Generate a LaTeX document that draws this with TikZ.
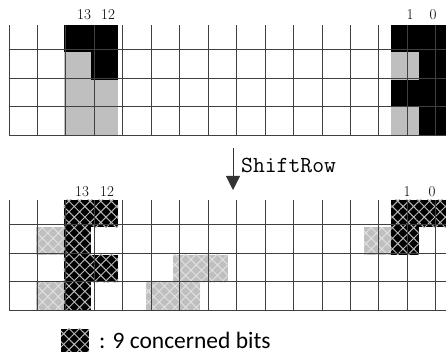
\documentclass[tikz,border=0pt]{standalone}
\usepackage{fontspec}
\newfontfamily\legendfont{Carlito}
\usetikzlibrary{arrows.meta,patterns.meta}

\tikzset{
  gridline/.style={draw=black!75, line width=0.9pt},
  bitblack/.style={fill=black},
  bitgray/.style={fill=black!25},
  hatchblack/.style={fill=black, postaction={pattern={Hatch[angle=45,distance=7.5pt,line width=1pt]}, pattern color=black!28}},
  hatchgray/.style={fill=black!25, postaction={pattern={Hatch[angle=45,distance=7.5pt,line width=1pt]}, pattern color=black!12}},
  bitlabel/.style={inner sep=0pt, font=\fontsize{15}{15}\selectfont},
}

\begin{document}
\begin{tikzpicture}[x=1pt, y=1pt]
  \useasboundingbox (0,0) rectangle (446,355);

  % state before ShiftRow
  \begin{scope}[shift={(9,220)}, x=27.3125pt, y=27.5pt]
    \foreach \c/\r in {2/0,3/0,3/1,14/0,14/2,15/0,15/1,15/2,15/3}
      \fill[bitblack] (\c,3-\r) rectangle ++(1,1);
    \foreach \c/\r in {2/1,2/2,3/2,2/3,3/3,14/1,14/3}
      \fill[bitgray] (\c,3-\r) rectangle ++(1,1);
    \draw[gridline] (0,0) grid (16,4);
  \end{scope}

  % state after ShiftRow
  \begin{scope}[shift={(9,45)}, x=27.3125pt, y=27.5pt]
    \foreach \c/\r in {2/0,3/0,14/0,15/0,2/1,14/1,2/2,3/2,2/3}
      \fill[hatchblack] (\c,3-\r) rectangle ++(1,1);
    \foreach \c/\r in {1/1,13/1,6/2,7/2,1/3,5/3,6/3}
      \fill[hatchgray] (\c,3-\r) rectangle ++(1,1);
    \draw[gridline] (0,0) grid (16,4);
  \end{scope}

  \node[bitlabel] (t13) at (84,340) {13};
  \node[bitlabel] (t12) at (108,340) {12};
  \node[bitlabel] (t1)  at (410,340) {1};
  \node[bitlabel] (t0)  at (433,340) {0};
  \node[bitlabel] (b13) at (82,163) {13};
  \node[bitlabel] (b12) at (107,163) {12};
  \node[bitlabel] (b1)  at (407,163) {1};
  \node[bitlabel] (b0)  at (432,163) {0};

  \coordinate (arrtop) at (233,207);
  \coordinate (arrtip) at (233,165);
  \draw[black!80, line width=0.8pt, -{Triangle[width=14pt,length=14pt]}] (arrtop) -- (arrtip);
  \node[anchor=west, inner sep=0pt, font=\fontsize{23}{23}\selectfont\ttfamily] (shift) at (241,190) {ShiftRow};

  \fill[hatchblack] (61,3) rectangle (89,26);
  \node[anchor=west, inner sep=0pt, font=\fontsize{23.5}{23.5}\selectfont\legendfont] (legend) at (99,14.5) {: 9 concerned bits};
\end{tikzpicture}
\end{document}
